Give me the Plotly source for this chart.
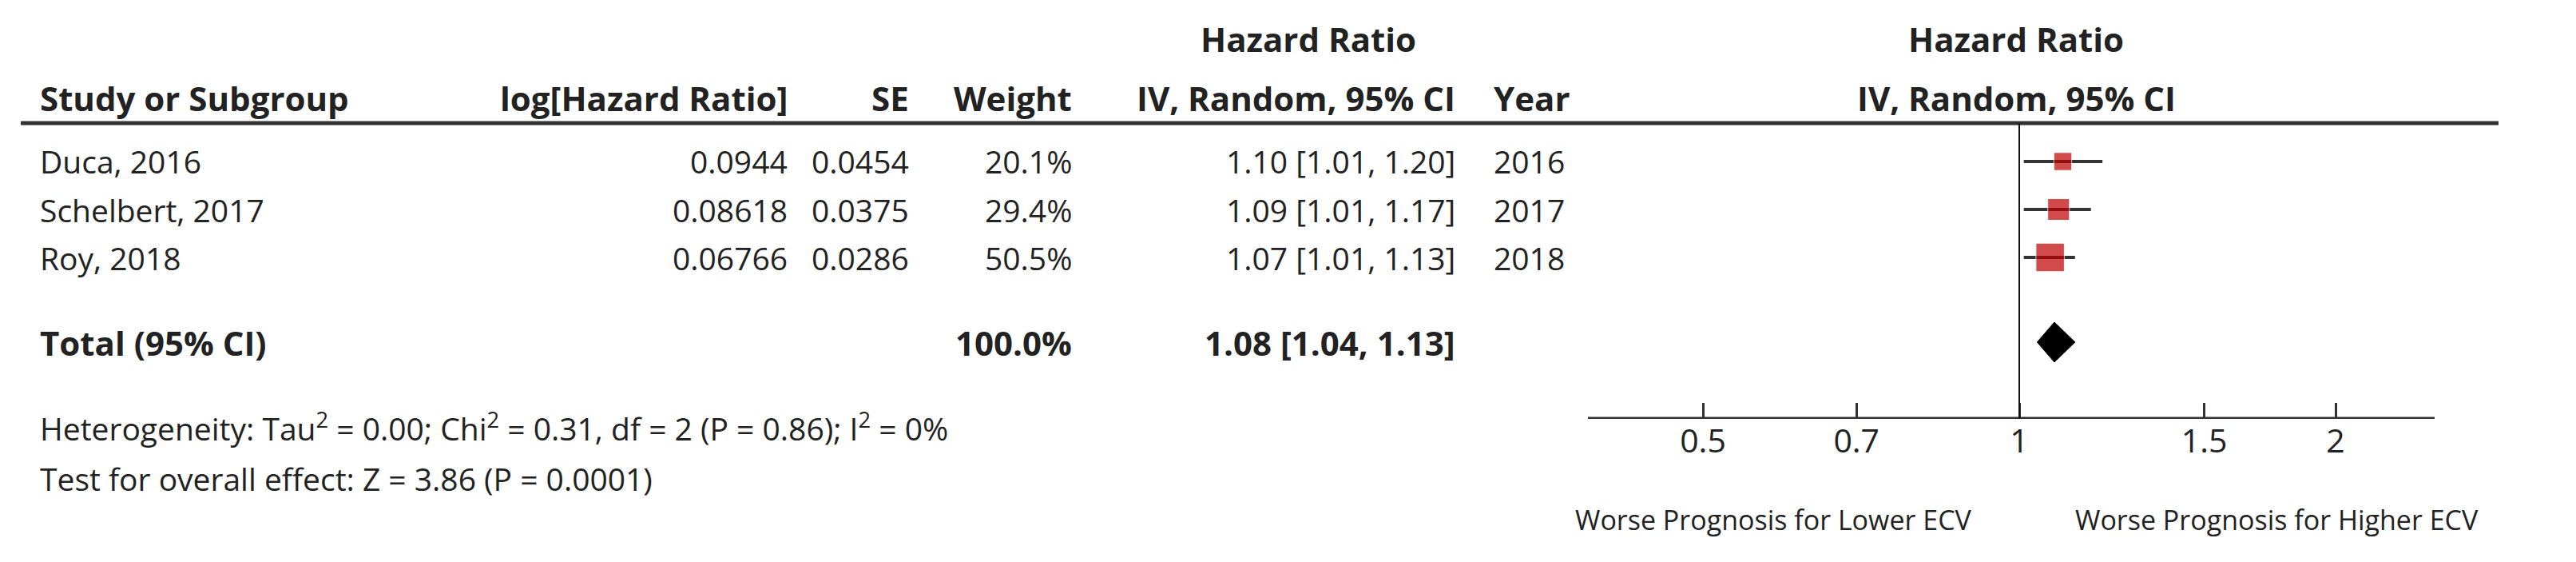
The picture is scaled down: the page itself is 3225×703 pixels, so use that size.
import plotly.graph_objects as go
import numpy as np

studies = ["Duca, 2016", "Schelbert, 2017", "Roy, 2018"]
log_hr = ["0.0944", "0.08618", "0.06766"]
se = ["0.0454", "0.0375", "0.0286"]
weight = [20.1, 29.4, 50.5]
hr = [1.10, 1.09, 1.07]
lo = [1.01, 1.01, 1.01]
hi = [1.20, 1.17, 1.13]
years = ["2016", "2017", "2018"]
total_hr, total_lo, total_hi = 1.08, 1.04, 1.13
tick_vals = [0.5, 0.7, 1, 1.5, 2]
tick_text = ["0.5", "0.7", "1", "1.5", "2"]

W, H = 3225, 703
FONT = "Open Sans, Liberation Sans, sans-serif"
FS = 39
FB = 42
row_y = [194, 254, 314]
total_y = 420
axis_y = 516
top_y = 146

fig = go.Figure()
fig.add_trace(go.Scatter(
    x=hr, y=row_y, mode="markers",
    marker=dict(symbol="square", color="#c00000", size=[5 * np.sqrt(w) for w in weight]),
    error_x=dict(type="data", symmetric=False,
                 array=[h - m for h, m in zip(hi, hr)],
                 arrayminus=[m - l for m, l in zip(hr, lo)],
                 color="#333333", thickness=4, width=0),
    hoverinfo="skip", showlegend=False))
fig.add_trace(go.Scatter(
    x=[total_lo, total_hr, total_hi, total_hr, total_lo],
    y=[total_y, total_y - 25, total_y, total_y + 25, total_y],
    fill="toself", fillcolor="black", mode="lines", line=dict(color="black", width=1),
    hoverinfo="skip", showlegend=False))

p05, p2 = 2124, 2916
px_per_dec = (p2 - p05) / (np.log10(2) - np.log10(0.5))
x0 = np.log10(0.5) - p05 / px_per_dec
x1 = np.log10(0.5) + (W - p05) / px_per_dec

fig.update_layout(
    width=W, height=H, margin=dict(l=0, r=0, t=0, b=0),
    plot_bgcolor="white", paper_bgcolor="white",
    font=dict(family=FONT, size=FS, color="#222"),
    xaxis=dict(type="log", range=[x0, x1], domain=[0, 1], showgrid=False, zeroline=False,
               showline=False, tickvals=tick_vals, ticktext=tick_text, ticks="inside",
               ticklen=20, tickwidth=3, tickcolor="#333", tickfont=dict(size=FS + 2)),
    yaxis=dict(range=[axis_y, 0], domain=[(H - axis_y) / H, 1], visible=False),
)

def px(x):
    return x / W

def ann(text, x, y, anchor="left", bold=False, size=None):
    if size is None:
        size = FB if bold else FS
    if bold:
        text = "<b>" + text + "</b>"
    fig.add_annotation(text=text, x=px(x), y=1 - y / H, xref="paper", yref="paper",
                       xanchor=anchor, yanchor="middle", showarrow=False,
                       font=dict(size=size, family=FONT, color="#222"))

# headers
ann("Hazard Ratio", 1630, 40, "center", True)
ann("Hazard Ratio", 2516, 40, "center", True)
ann("Study or Subgroup", 40, 114, "left", True)
ann("log[Hazard Ratio]", 980, 114, "right", True)
ann("SE", 1132, 114, "right", True)
ann("Weight", 1336, 114, "right", True)
ann("IV, Random, 95% CI", 1816, 114, "right", True)
ann("Year", 1860, 114, "left", True)
ann("IV, Random, 95% CI", 2516, 114, "center", True)

for i, y in enumerate(row_y):
    ann(studies[i], 40, y)
    ann(log_hr[i], 980, y, "right")
    ann(se[i], 1132, y, "right")
    ann(f"{weight[i]:.1f}%", 1336, y, "right")
    ann(f"{hr[i]:.2f} [{lo[i]:.2f}, {hi[i]:.2f}]", 1816, y, "right")
    ann(years[i], 1860, y)

ann("Total (95% CI)", 40, total_y, "left", True)
ann(f"{sum(weight):.1f}%", 1336, total_y, "right", True)
ann(f"{total_hr:.2f} [{total_lo:.2f}, {total_hi:.2f}]", 1816, total_y, "right", True)
ann("Heterogeneity: Tau<sup>2</sup> = 0.00; Chi<sup>2</sup> = 0.31, df = 2 (P = 0.86); I<sup>2</sup> = 0%", 40, 526)
ann("Test for overall effect: Z = 3.86 (P = 0.0001)", 40, 590)
ann("Worse Prognosis for Lower ECV", 2212, 642, "center", size=34)
ann("Worse Prognosis for Higher ECV", 2842, 642, "center", size=34)

# lines
fig.add_shape(type="line", xref="paper", yref="y", x0=px(18), x1=px(3120), y0=top_y, y1=top_y,
              line=dict(color="#333", width=5))
fig.add_shape(type="line", xref="paper", yref="y", x0=px(1980), x1=px(3040), y0=axis_y, y1=axis_y,
              line=dict(color="#333", width=5))
fig.add_shape(type="line", xref="x", yref="y", x0=1, x1=1, y0=top_y, y1=axis_y,
              line=dict(color="#111", width=2))

fig.write_html("out.html")
